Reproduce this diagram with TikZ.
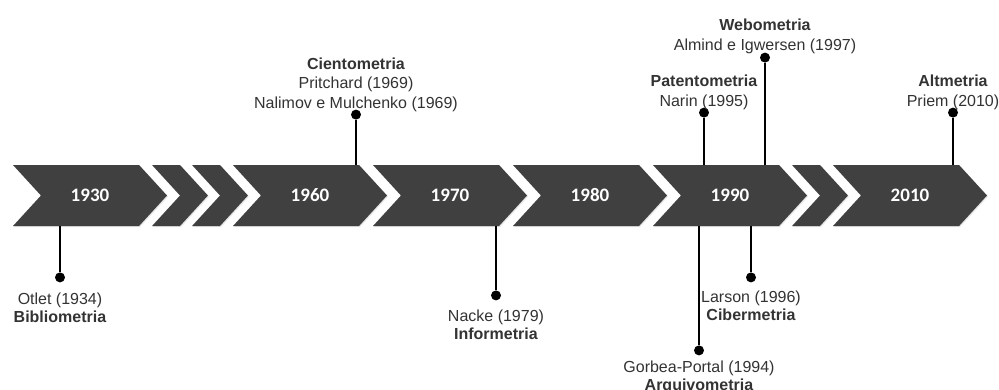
\documentclass[tikz,border=0pt]{standalone}
\usepackage{fontspec}
\setmainfont{Liberation Sans}
\newfontfamily\anofont{Carlito}
\usepackage{tikz}
\usetikzlibrary{shapes.symbols}
\usetikzlibrary{positioning}
\usetikzlibrary{shadows}

\begin{document}
\begin{tikzpicture}[x=1pt, y=1pt, node distance=140pt, on grid,
    seta/.style={signal, signal from=west, signal to=east,
      signal pointer angle=95, fill=black!75, draw=none,
      minimum width=154pt, minimum height=61pt, inner sep=0pt,
      text=white, font=\anofont\bfseries\fontsize{19}{19}\selectfont,
      drop shadow={opacity=0.2, shadow xshift=1pt, shadow yshift=-1pt}},
    seta pequena/.style={seta, minimum width=54pt},
    ponto/.style={circle, fill=black, inner sep=0pt, minimum size=10pt},
    haste/.style={line width=2.6pt},
    rotulo/.style={align=center, inner sep=0pt, text=black!80,
      font=\fontsize{16}{19.5}\selectfont},
    rotulo abaixo/.style={rotulo, font=\fontsize{16}{18}\selectfont}]

       \useasboundingbox (0,195.5) rectangle (999,-193.5);

       \node[seta] (Ano_1930) at (90,0) {1930};
       \node[seta pequena, right=90pt of Ano_1930] (Seta_A) {};
       \node[seta pequena, right=40pt of Seta_A] (Seta_B) {};
       \node[seta, right=90pt of Seta_B] (Ano_1960) {1960};
       \node[seta, right of=Ano_1960] (Ano_1970) {1970};
       \node[seta, right of=Ano_1970] (Ano_1980) {1980};
       \node[seta, right of=Ano_1980] (Ano_1990) {1990};
       \node[seta pequena, right=90pt of Ano_1990] (Seta_C) {};
       \node[seta, right=90pt of Seta_C] (Ano_2010) {2010};

       % marcos acima das setas
       \coordinate (Base_Cientometria) at ([xshift=46pt]Ano_1960.north);
       \node[ponto, above=45pt of Base_Cientometria] (Ponto_Cientometria) {};
       \draw[haste] (Base_Cientometria) -- (Ponto_Cientometria);
       \node[rotulo, above=3pt of Ponto_Cientometria, anchor=south] (Texto_Cientometria)
       {\textbf{Cientometria}\\Pritchard (1969)\\Nalimov e Mulchenko (1969)};

       \coordinate (Base_Patentometria) at ([xshift=-26pt]Ano_1990.north);
       \node[ponto, above=47pt of Base_Patentometria] (Ponto_Patentometria) {};
       \draw[haste] (Base_Patentometria) -- (Ponto_Patentometria);
       \node[rotulo, above=3pt of Ponto_Patentometria, anchor=south] (Texto_Patentometria)
       {\textbf{Patentometria}\\Narin (1995)};

       \coordinate (Base_Webometria) at ([xshift=35pt]Ano_1990.north);
       \node[ponto, above=102pt of Base_Webometria] (Ponto_Webometria) {};
       \draw[haste] (Base_Webometria) -- (Ponto_Webometria);
       \node[rotulo, above=4pt of Ponto_Webometria, anchor=south] (Texto_Webometria)
       {\textbf{Webometria}\\Almind e Igwersen (1997)};

       \coordinate (Base_Altmetria) at ([xshift=43pt]Ano_2010.north);
       \node[ponto, above=47pt of Base_Altmetria] (Ponto_Altmetria) {};
       \draw[haste] (Base_Altmetria) -- (Ponto_Altmetria);
       \node[rotulo, above=3pt of Ponto_Altmetria, anchor=south] (Texto_Altmetria)
       {\textbf{Altmetria}\\Priem (2010)};

       % marcos abaixo das setas
       \coordinate (Base_Bibliometria) at ([xshift=-30pt]Ano_1930.south);
       \node[ponto, below=46pt of Base_Bibliometria] (Ponto_Bibliometria) {};
       \draw[haste] (Base_Bibliometria) -- (Ponto_Bibliometria);
       \node[rotulo abaixo, below=15pt of Ponto_Bibliometria, anchor=north] (Texto_Bibliometria)
       {Otlet (1934)\\\textbf{Bibliometria}};

       \coordinate (Base_Informetria) at ([xshift=46pt]Ano_1970.south);
       \node[ponto, below=64pt of Base_Informetria] (Ponto_Informetria) {};
       \draw[haste] (Base_Informetria) -- (Ponto_Informetria);
       \node[rotulo abaixo, below=14.5pt of Ponto_Informetria, anchor=north] (Texto_Informetria)
       {Nacke (1979)\\\textbf{Informetria}};

       \coordinate (Base_Arquivometria) at ([xshift=-31pt]Ano_1990.south);
       \node[ponto, below=119pt of Base_Arquivometria] (Ponto_Arquivometria) {};
       \draw[haste] (Base_Arquivometria) -- (Ponto_Arquivometria);
       \node[rotulo abaixo, below=10pt of Ponto_Arquivometria, anchor=north] (Texto_Arquivometria)
       {Gorbea-Portal (1994)\\\textbf{Arquivometria}};

       \coordinate (Base_Cibermetria) at ([xshift=21pt]Ano_1990.south);
       \node[ponto, below=46pt of Base_Cibermetria] (Ponto_Cibermetria) {};
       \draw[haste] (Base_Cibermetria) -- (Ponto_Cibermetria);
       \node[rotulo abaixo, below=13pt of Ponto_Cibermetria, anchor=north] (Texto_Cibermetria)
       {Larson (1996)\\\textbf{Cibermetria}};

     \end{tikzpicture}
\end{document}
